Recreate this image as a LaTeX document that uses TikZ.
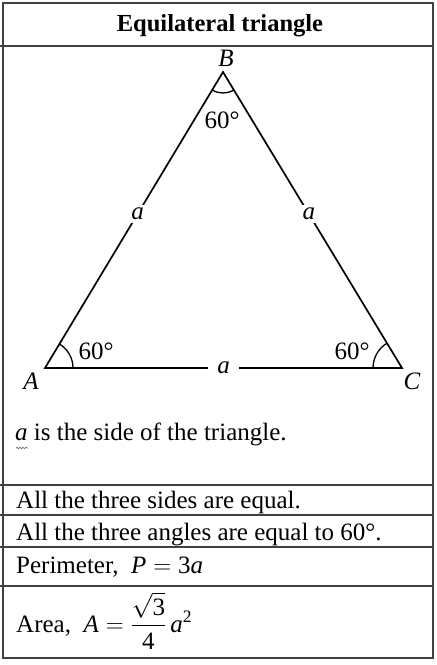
\documentclass[tikz,border=0pt]{standalone}
\usepackage{fontspec}
\usepackage{amsmath}
\setmainfont{Liberation Serif}
\usetikzlibrary{decorations.pathmorphing}

\tikzset{
  tbl/.style={line width=1.3pt, black!75},
  side/.style={line width=1.7pt},
  gap/.style={fill=white, inner xsep=9pt, inner ysep=3pt},
  row/.style={anchor=base west, inner sep=0pt}
}
\newcommand{\va}{\textit{a}}

\begin{document}
\begin{tikzpicture}[x=1pt,y=1pt,font=\fontsize{25}{30}\selectfont]
\useasboundingbox (0,0) rectangle (437,-665);

% table
\draw[tbl] (3,-3) rectangle (433,-658);
\foreach \y in {46,485,515,547,586}
  \draw[tbl] (0,-\y) -- (433,-\y);

\node[font=\fontsize{24.5}{29}\selectfont\bfseries] (title) at (220,-26) {Equilateral triangle};

% triangle
\coordinate (A) at (45,-368);
\coordinate (B) at (223,-72);
\coordinate (C) at (402,-368);

\draw[side, line join=miter] (A) -- node[gap, pos=0.52]{\va} (B)
  -- node[gap, pos=0.48]{\va} (C) -- node[gap]{\va} cycle;

\draw[side, line width=1.3pt] (A) ++(28,0) arc[start angle=0, end angle=59, radius=28];
\draw[side, line width=1.3pt] (C) ++(-29,0) arc[start angle=180, end angle=121, radius=29];
\draw[side, line width=1.3pt] (B) ++(239:21) arc[start angle=239, end angle=301, radius=21];

\node (lA) at (31,-381) {\textit{A}};
\node (lB) at (226,-58) {\textit{B}};
\node (lC) at (412,-381) {\textit{C}};

\node (angA) at (96,-351) {60°};
\node (angB) at (222,-120) {60°};
\node (angC) at (352,-351) {60°};

% texts
\node[row] (note) at (15,-440) {\va{} is the side of the triangle.};
\draw[decorate, decoration={snake, amplitude=0.8pt, segment length=3pt}, black!55, line width=0.7pt]
  (16,-448) -- (28,-448);

\node[row] (sides) at (16,-508) {All the three sides are equal.};
\node[row] (angles) at (16,-540) {All the three angles are equal to 60°.};
\node[row] (perim) at (16,-573) {Perimeter,\ \ $\text{\textit{P}} = \text{3\textit{a}}$};
\node[row] (area) at (16,-632) {Area,\ \ $\text{\textit{A}} = \dfrac{\sqrt{\text{3}}}{\text{4}}\,\text{\textit{a}}^{\text{2}}$};
\end{tikzpicture}
\end{document}
